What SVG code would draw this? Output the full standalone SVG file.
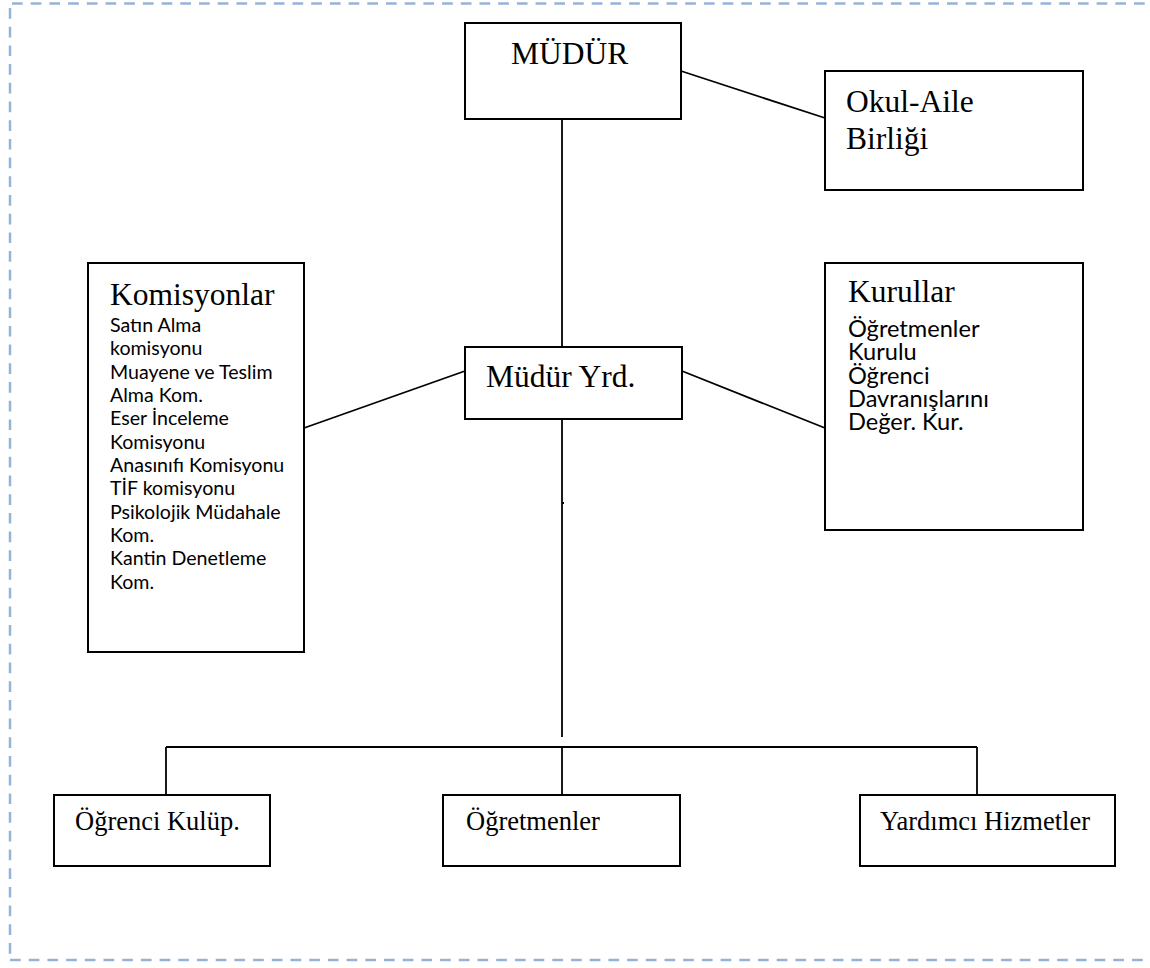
<svg xmlns="http://www.w3.org/2000/svg" width="1150" height="968" viewBox="0 0 1150 968">
<style>
.bg{fill:#ffffff}
.border{stroke:#95b3d7;stroke-width:2.5;stroke-dasharray:10.7 8;fill:none}
.box{fill:#ffffff;stroke:#000000;stroke-width:2}
.ln{stroke:#000000;stroke-width:1.8;fill:none}
.serif{font-family:"Liberation Serif","Times New Roman",serif;fill:#000000}
.big{font-size:31.5px}
.mid{font-size:26.5px}
.sans{font-family:Lato,"Liberation Sans",sans-serif;fill:#000000}
.s1{font-size:19.6px}
.s2{font-size:23.6px}
</style>
<rect class="bg" x="0" y="0" width="1150" height="968"/>
<g id="border">
<line class="border" x1="12" y1="3.5" x2="1150" y2="3.5"/>
<line class="border" x1="10" y1="8" x2="10" y2="955"/>
<line class="border" x1="10" y1="960" x2="1150" y2="960"/>
</g>
<g id="connectors">
<line class="ln" x1="681" y1="71" x2="825" y2="118"/>
<line class="ln" x1="562" y1="119" x2="562" y2="347"/>
<line class="ln" x1="304" y1="428" x2="465" y2="371"/>
<line class="ln" x1="682" y1="371" x2="825" y2="428"/>
<line class="ln" x1="562" y1="419" x2="562" y2="737"/>
<line class="ln" x1="562" y1="503" x2="564" y2="503"/>
<line class="ln" x1="166" y1="747" x2="977" y2="747"/>
<line class="ln" x1="166" y1="747" x2="166" y2="795"/>
<line class="ln" x1="562" y1="747" x2="562" y2="795"/>
<line class="ln" x1="977" y1="747" x2="977" y2="795"/>
</g>
<g id="mudur">
<rect class="box" x="465" y="23" width="216" height="96"/>
<text class="serif big" x="511" y="64">MÜDÜR</text>
</g>
<g id="okul-aile">
<rect class="box" x="825" y="71" width="258" height="119"/>
<text class="serif big" x="846" y="112">Okul-Aile</text>
<text class="serif big" x="846" y="149">Birliği</text>
</g>
<g id="mudur-yrd">
<rect class="box" x="465" y="347" width="217" height="72"/>
<text class="serif big" x="486" y="387">Müdür Yrd.</text>
</g>
<g id="komisyonlar">
<rect class="box" x="88" y="263" width="216" height="389"/>
<text class="serif big" x="110" y="305">Komisyonlar</text>
<g class="sans s1">
<text x="110" y="332">Satın Alma</text>
<text x="110" y="355.3">komisyonu</text>
<text x="110" y="378.6">Muayene ve Teslim</text>
<text x="110" y="402">Alma Kom.</text>
<text x="110" y="425.3">Eser İnceleme</text>
<text x="110" y="448.6">Komisyonu</text>
<text x="110" y="472">Anasınıfı Komisyonu</text>
<text x="110" y="495.3">TİF komisyonu</text>
<text x="110" y="518.6">Psikolojik Müdahale</text>
<text x="110" y="542">Kom.</text>
<text x="110" y="565.3">Kantin Denetleme</text>
<text x="110" y="588.6">Kom.</text>
</g>
</g>
<g id="kurullar">
<rect class="box" x="825" y="263" width="258" height="267"/>
<text class="serif big" x="848" y="302">Kurullar</text>
<g class="sans s2">
<text x="848" y="337">Öğretmenler</text>
<text x="848" y="360.3">Kurulu</text>
<text x="848" y="383.6">Öğrenci</text>
<text x="848" y="407">Davranışlarını</text>
<text x="848" y="430.3">Değer. Kur.</text>
</g>
</g>
<g id="ogrenci-kulup">
<rect class="box" x="54" y="795" width="216" height="71"/>
<text class="serif mid" x="75" y="830">Öğrenci Kulüp.</text>
</g>
<g id="ogretmenler">
<rect class="box" x="443" y="795" width="237" height="71"/>
<text class="serif mid" x="466" y="830">Öğretmenler</text>
</g>
<g id="yardimci">
<rect class="box" x="860" y="795" width="255" height="71"/>
<text class="serif mid" x="880" y="830">Yardımcı Hizmetler</text>
</g>
</svg>
